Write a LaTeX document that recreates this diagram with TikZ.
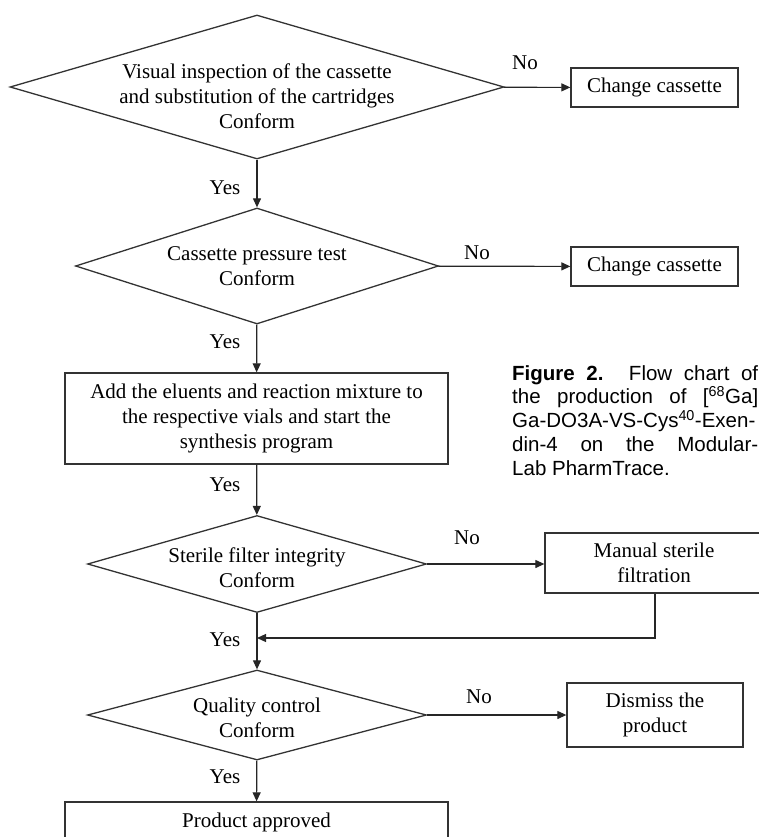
\documentclass[tikz,border=0pt]{standalone}
\usepackage{fontspec}
\setmainfont{Liberation Serif}
\newfontfamily\capfont{Liberation Sans}
\usetikzlibrary{shapes.geometric,arrows.meta}

\begin{document}
\begin{tikzpicture}[x=1pt,y=-1pt,
    every node/.style={font=\fontsize{21}{25}\selectfont},
    decision/.style={diamond, draw=black!80, line width=1.3pt, inner sep=0pt},
    stepbox/.style={rectangle, draw=black!80, line width=1.3pt, inner sep=0pt, align=center},
    flow/.style={->, draw=black!85, line width=1.2pt},
    >={Triangle[length=9pt,width=8pt]}]
    \useasboundingbox (0,0) rectangle (759,837);

    \node[decision, minimum width=494pt, minimum height=144pt,
      label={[name=inspecttxt, align=center, yshift=-9pt]center:Visual inspection of the cassette\\and substitution of the cartridges\\Conform}] (inspect) at (257,87) {};
    \node[stepbox, minimum width=167pt, minimum height=39pt] (change1) at (654.5,87.5) {Change cassette};

    \node[decision, minimum width=363pt, minimum height=116pt,
      label={[name=pressuretxt, align=center]center:Cassette pressure test\\Conform}] (pressure) at (257,266) {};
    \node[stepbox, minimum width=167pt, minimum height=39pt] (change2) at (654.5,266.5) {Change cassette};

    \node[stepbox, minimum width=383pt, minimum height=91pt] (eluents) at (256.5,418.5)
      {Add the eluents and reaction mixture to\\the respective vials and start the\\synthesis program};

    \node[decision, minimum width=339pt, minimum height=97pt,
      label={[name=filtertxt, align=center, yshift=-4pt]center:Sterile filter integrity\\Conform}] (filter) at (257,564) {};
    \node[stepbox, minimum width=218pt, minimum height=60pt] (manual) at (654,563) {Manual sterile\\filtration};

    \node[decision, minimum width=339pt, minimum height=90pt,
      label={[name=qualitytxt, align=center, yshift=-3pt]center:Quality control\\Conform}] (quality) at (257,715) {};
    \node[stepbox, minimum width=176pt, minimum height=64pt] (dismiss) at (655,715) {Dismiss the\\product};

    \node[stepbox, minimum width=383pt, minimum height=40pt] (approved) at (256.5,822) {Product approved};

    \coordinate (merge) at (257,638);

    \draw[flow] (inspect) -- (change1);
    \draw[flow] (inspect) -- (pressure);
    \draw[flow] (pressure) -- (change2);
    \draw[flow] (pressure) -- (eluents);
    \draw[flow] (eluents) -- (filter);
    \draw[flow] (filter) -- (manual.west |- filter);
    \draw[flow] (manual.south -| 655,0) |- (merge);
    \draw[flow] (filter) -- (quality);
    \draw[flow] (quality) -- (dismiss);
    \draw[flow] (quality) -- (approved);

    \node (no1) at (525,63) {No};
    \node (yes1) at (225,188) {Yes};
    \node (no2) at (477,253) {No};
    \node (yes2) at (225,342) {Yes};
    \node (yes3) at (225,485) {Yes};
    \node (no3) at (467,538) {No};
    \node (yes4) at (225,640) {Yes};
    \node (no4) at (479,697) {No};
    \node (yes5) at (225,777) {Yes};

    \node[text width=246pt, align=justify, anchor=north west, inner sep=0pt,
      font=\capfont\fontsize{20.5}{23.8}\selectfont] (caption) at (512,365)
      {\textbf{Figure 2.} Flow chart of\linebreak the production of [\textsuperscript{68}Ga]\linebreak
       Ga-DO3A-VS-Cys\textsuperscript{40}-Exen-\linebreak din-4 on the Modular-\linebreak Lab PharmTrace.};
\end{tikzpicture}
\end{document}
